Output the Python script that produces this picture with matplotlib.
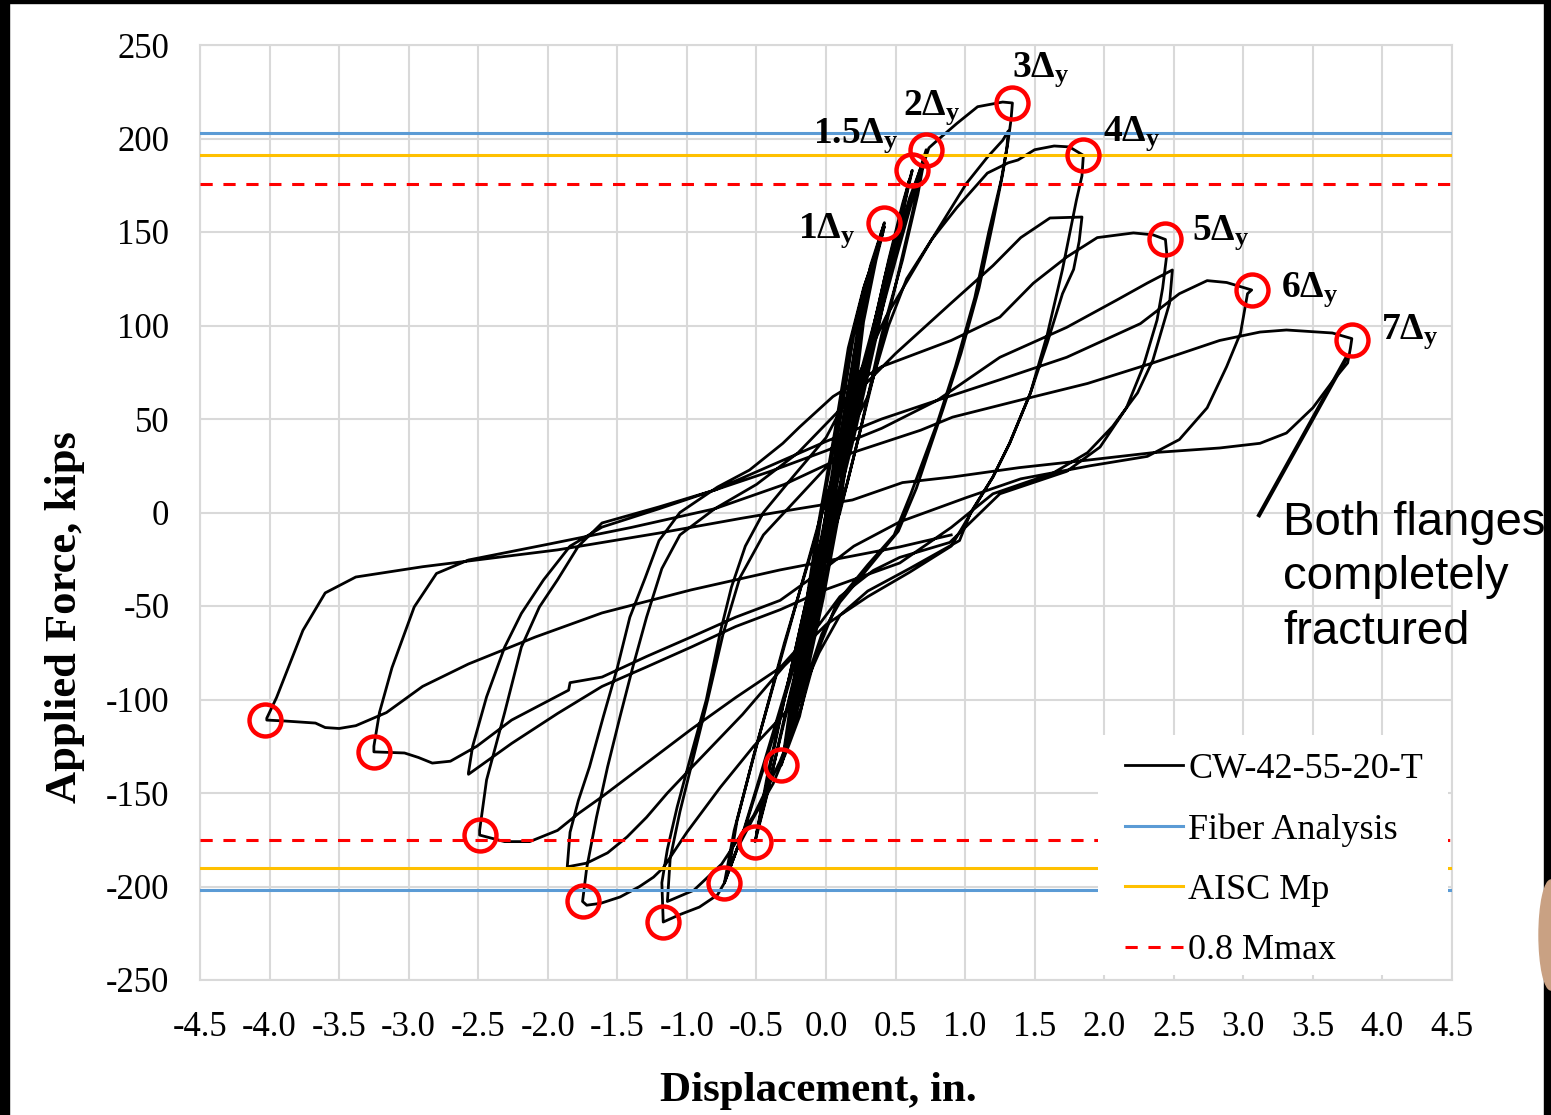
import numpy as np
import matplotlib
matplotlib.use("Agg")
import matplotlib.pyplot as plt
from matplotlib.patches import Rectangle, Ellipse

plt.rcParams['font.family'] = ['Liberation Serif', 'DejaVu Serif']
plt.rcParams['mathtext.fontset'] = 'custom'
plt.rcParams['mathtext.rm'] = 'Liberation Serif'
plt.rcParams['mathtext.bf'] = 'Liberation Serif:bold'
plt.rcParams['mathtext.it'] = 'Liberation Serif:italic'
plt.rcParams['axes.unicode_minus'] = False

# ---- test record (displacement in., force kips) ----
elastic = [(0.0, 0), (0.07, 22), (0.14, 46), (0.06, 16), (-0.02, -12), (-0.08, -42), (0.0, -10), (0.07, 18),
           (0.14, 45), (0.05, 14), (-0.03, -14), (-0.08, -41), (0.02, -2), (0.12, 40), (0.22, 86), (0.12, 44),
           (-0.02, -10), (-0.16, -74), (-0.04, -22), (0.1, 34), (0.22, 85), (0.1, 38), (-0.04, -16), (-0.16, -73),
           (-0.05, -28), (0.08, 26), (0.2, 80), (0.3, 122), (0.2, 84), (0.06, 20), (-0.08, -40), (-0.24, -106),
           (-0.1, -52), (0.06, 10), (0.18, 66), (0.3, 121), (0.18, 74), (0.04, 10), (-0.1, -48), (-0.24, -105)]
c1_a = [(-0.24, -105), (-0.2, -98), (-0.06, -50), (0.05, 0), (0.14, 50), (0.23, 100), (0.32, 132), (0.42, 155),
        (0.3, 125), (0.2, 95), (0.1, 48), (0.0, 0), (-0.1, -50), (-0.22, -100), (-0.32, -135)]
c1_b = [(-0.32, -135), (-0.18, -96), (-0.04, -48), (0.08, 0), (0.17, 50), (0.25, 100), (0.34, 132), (0.42, 153),
        (0.28, 122), (0.18, 92), (0.08, 46), (-0.03, 0), (-0.13, -50), (-0.23, -98), (-0.31, -132)]
c1_c = [(-0.31, -132), (-0.16, -94), (-0.02, -46), (0.1, 2), (0.19, 52), (0.27, 102), (0.36, 135), (0.41, 150),
        (0.27, 120), (0.16, 88), (0.06, 42), (-0.05, -4), (-0.15, -52), (-0.25, -100), (-0.31, -131)]
c15_1_up = [(-0.31, -131), (-0.2, -95), (-0.05, -40), (0.1, 15), (0.3, 85), (0.45, 135), (0.55, 165), (0.62, 183)]
c15_1_dn = [(0.62, 183), (0.55, 160), (0.4, 110), (0.2, 45), (0.05, -5), (-0.12, -55), (-0.3, -110), (-0.42, -150), (-0.51, -176)]
c15_2_up = [(-0.51, -176), (-0.44, -150), (-0.3, -100), (-0.12, -40), (0.05, 10), (0.25, 70), (0.42, 125), (0.54, 160), (0.6, 178)]
c15_2_dn = [(0.6, 178), (0.52, 150), (0.38, 100), (0.2, 40), (0.03, -10), (-0.15, -65), (-0.32, -118), (-0.44, -155), (-0.5, -172)]
c2_1_up = [(-0.5, -172), (-0.42, -140), (-0.3, -100), (-0.15, -50), (0.0, -5), (0.15, 35), (0.3, 80), (0.45, 125), (0.6, 165), (0.72, 194)]
c2_1_dn = [(0.72, 194), (0.66, 170), (0.55, 135), (0.4, 95), (0.25, 45), (0.1, 0), (-0.05, -35), (-0.25, -85), (-0.45, -135), (-0.6, -172), (-0.73, -198)]
c2_2_up = [(-0.73, -198), (-0.66, -170), (-0.5, -125), (-0.3, -70), (-0.12, -25), (0.05, 20), (0.25, 75), (0.45, 130), (0.6, 168), (0.7, 188)]
c2_2_dn = [(0.7, 188), (0.62, 160), (0.48, 115), (0.3, 60), (0.15, 15), (-0.02, -30), (-0.22, -80), (-0.42, -130), (-0.58, -168), (-0.7, -192)]
c3_1_up = [(-0.7, -192), (-0.64, -165), (-0.52, -130), (-0.35, -85), (-0.2, -45), (-0.05, -5), (0.1, 30), (0.3, 80), (0.5, 135),
           (0.65, 175), (0.74, 195), (0.8, 199), (0.94, 208), (1.09, 217), (1.27, 219.5), (1.34, 219)]
c3_1_dn = [(1.34, 219), (1.33, 210), (1.31, 199), (1.27, 181), (1.2, 155), (1.1, 120), (0.97, 85), (0.84, 55), (0.74, 33),
           (0.65, 13), (0.52, -10), (0.3, -30), (0.1, -48), (-0.03, -65), (-0.12, -85), (-0.19, -109), (-0.28, -127),
           (-0.38, -145), (-0.52, -163), (-0.64, -180), (-0.73, -198), (-0.78, -204.5), (-0.91, -211), (-1.05, -215), (-1.17, -219)]
c3_2_up = [(-1.17, -219), (-1.18, -198), (-1.14, -180), (-1.07, -157.5), (-0.96, -127), (-0.86, -100), (-0.76, -64),
           (-0.68, -40), (-0.58, -18), (-0.45, 0), (-0.25, 18), (0.0, 40), (0.2, 68), (0.43, 104.5), (0.76, 146),
           (1.01, 176), (1.16, 190), (1.27, 199), (1.31, 204)]
c3_2_dn = [(1.31, 204), (1.3, 195), (1.26, 178), (1.17, 150), (1.07, 115), (0.93, 78), (0.8, 48), (0.7, 28), (0.61, 10),
           (0.49, -12), (0.3, -28), (0.08, -48), (-0.08, -78), (-0.18, -105), (-0.33, -133), (-0.52, -162), (-0.75, -188),
           (-0.95, -202), (-1.14, -208)]
c4_1_up = [(-1.14, -208), (-1.12, -185), (-1.05, -160), (-0.95, -130), (-0.85, -100), (-0.74, -65), (-0.62, -35),
           (-0.45, -12), (-0.2, 8), (0.1, 32), (0.3, 62), (0.45, 100), (0.58, 125), (0.76, 146), (0.94, 163),
           (1.16, 181.5), (1.31, 187), (1.38, 188.5), (1.5, 194), (1.64, 196), (1.75, 195.5), (1.85, 191)]
c4_1_dn = [(1.85, 191), (1.84, 180), (1.8, 167), (1.7, 130), (1.59, 95), (1.47, 64), (1.32, 37), (1.2, 19), (1.04, 0),
           (0.96, -15), (0.6, -30), (0.3, -42), (0.1, -55), (-0.05, -75), (-0.15, -92), (-0.28, -106), (-0.52, -125),
           (-0.76, -147), (-1.0, -171), (-1.17, -190), (-1.24, -195), (-1.34, -200), (-1.48, -205.6), (-1.62, -209),
           (-1.72, -210), (-1.75, -208)]
c4_2_up = [(-1.75, -208), (-1.72, -190), (-1.65, -163), (-1.57, -136), (-1.48, -109), (-1.39, -83), (-1.29, -56),
           (-1.18, -30), (-1.05, -12), (-0.8, 2), (-0.5, 15), (-0.2, 32), (0.1, 55), (0.5, 85), (0.9, 112), (1.2, 132),
           (1.4, 147), (1.61, 157.5), (1.84, 158)]
c4_2_dn = [(1.84, 158), (1.82, 145), (1.78, 130), (1.7, 117), (1.59, 90.6), (1.47, 64), (1.32, 37), (1.2, 19), (1.06, 2),
           (0.9, -18), (0.6, -32), (0.3, -45), (0.0, -60), (-0.3, -82), (-0.6, -108), (-1.0, -139), (-1.14, -150),
           (-1.29, -163), (-1.43, -173.5), (-1.57, -182), (-1.72, -187.5), (-1.86, -189.5)]
c5_1_up = [(-1.86, -189.5), (-1.84, -171), (-1.78, -154), (-1.7, -136), (-1.6, -109), (-1.5, -83), (-1.41, -56),
           (-1.3, -35), (-1.2, -15), (-1.05, 0), (-0.78, 13.6), (-0.55, 22.7), (-0.31, 37), (-0.19, 45.7), (0.05, 62),
           (0.4, 78), (0.9, 92), (1.25, 104.5), (1.49, 122.6), (1.73, 136.6), (1.95, 147), (2.21, 149.5), (2.35, 148.5),
           (2.44, 146)]
c5_1_dn = [(2.44, 146), (2.45, 138), (2.42, 120), (2.38, 103), (2.28, 78), (2.16, 56), (1.97, 35), (1.73, 22), (1.25, 10),
           (0.89, -16), (0.53, -24), (0.34, -31), (0.1, -45), (-0.05, -60), (-0.33, -83), (-0.65, -99), (-0.97, -116),
           (-1.29, -134), (-1.45, -143), (-1.61, -152), (-1.78, -161), (-1.93, -170), (-2.13, -176), (-2.31, -176),
           (-2.49, -172.5)]
c5_2_up = [(-2.49, -172.5), (-2.49, -170), (-2.44, -143), (-2.31, -107), (-2.19, -72), (-2.06, -50.5), (-1.93, -36),
           (-1.78, -18), (-1.61, -5.6), (-1.2, 3), (-0.8, 12), (-0.4, 22), (0.0, 33), (0.4, 45), (0.8, 60), (1.25, 83),
           (1.73, 99), (2.09, 113.6), (2.31, 122.7), (2.49, 129.7)]
c5_2_dn = [(2.49, 129.7), (2.47, 112), (2.35, 81.5), (2.24, 64), (2.06, 46), (1.88, 32), (1.63, 21), (1.2, 10), (0.9, -8),
           (0.53, -27), (-0.01, -41.4), (-0.33, -52), (-0.65, -61), (-0.97, -72), (-1.29, -82.6), (-1.61, -93),
           (-1.93, -107.5), (-2.26, -123.5), (-2.42, -132), (-2.57, -140)]
c6_up = [(-2.57, -140), (-2.57, -139), (-2.54, -125), (-2.44, -98.6), (-2.31, -72), (-2.19, -54), (-2.03, -36),
         (-1.84, -18), (-1.61, -7.8), (-1.2, 2), (-0.8, 12), (-0.4, 25), (0.0, 38), (0.4, 50), (0.8, 60), (1.25, 71),
         (1.73, 83), (2.26, 101), (2.54, 117), (2.74, 124), (2.88, 123), (3.06, 119)]
c6_dn = [(3.06, 119), (3.03, 117), (2.98, 96), (2.88, 78), (2.74, 56), (2.54, 39), (2.31, 30), (1.9, 25), (1.4, 18),
         (1.01, 8), (0.53, -5), (0.2, -18), (-0.01, -30), (-0.33, -47), (-0.65, -56), (-0.97, -66.6), (-1.29, -77),
         (-1.61, -88), (-1.84, -91), (-1.85, -95), (-2.26, -111), (-2.51, -125), (-2.7, -133), (-2.83, -134),
         (-2.93, -131), (-3.03, -128.6), (-3.25, -128)]
c7_up = [(-3.25, -128), (-3.25, -125), (-3.21, -107), (-3.12, -83), (-2.96, -50.5), (-2.8, -32.6), (-2.57, -25.4),
         (-2.0, -17), (-1.4, -8), (-0.8, 2), (-0.3, 15), (0.19, 32), (0.68, 44), (0.91, 51), (1.39, 60), (1.88, 69),
         (2.35, 80), (2.83, 92), (3.12, 96.5), (3.31, 97.6), (3.64, 96), (3.78, 93)]
c7_dn = [(3.78, 93), (3.77, 88), (3.75, 80), (3.64, 70), (3.5, 56), (3.31, 42.5), (3.12, 37), (2.83, 34.5), (2.35, 32),
         (1.88, 28), (1.39, 24), (0.91, 19), (0.55, 16), (0.19, 6.7), (-0.2, 2), (-0.6, -3), (-1.2, -11), (-1.93, -20),
         (-2.9, -29), (-3.38, -34.5), (-3.6, -43), (-3.76, -63), (-3.95, -99), (-4.02, -110)]
c7_end = [(-4.02, -110), (-4.02, -111), (-3.89, -111.5), (-3.67, -112.6), (-3.6, -115), (-3.5, -115.5), (-3.38, -114),
          (-3.16, -107), (-2.9, -93), (-2.57, -81), (-2.09, -66.6), (-1.61, -53.7), (-0.97, -41.4), (-0.33, -30.7),
          (0.53, -18.4), (0.9, -12)]

# peaks marked with red circles
pos_peak_x = [0.42, 0.62, 0.72, 1.34, 1.85, 2.44, 3.06, 3.78]
pos_peak_f = [155, 183, 194, 219, 191, 146, 119, 92]
neg_peak_x = [-0.32, -0.51, -0.73, -1.17, -1.75, -2.49, -3.25, -4.03]
neg_peak_f = [-135, -176, -198, -219, -208, -172.5, -128, -111]

# cycle labels
cycle_labels = ['1', '1.5', '2', '3', '4', '5', '6', '7']
label_x = [-0.2, -0.09, 0.55, 1.34, 1.99, 2.63, 3.27, 3.99]
label_f = [147, 198, 212.6, 233, 199, 145.7, 115.2, 92.8]

# capacity reference lines
fiber_f = [203, -202]
aisc_f = [191, -190]
mmax_f = [175.5, -175]

x_ticks = [-4.5, -4.0, -3.5, -3.0, -2.5, -2.0, -1.5, -1.0, -0.5, 0.0, 0.5, 1.0, 1.5, 2.0, 2.5, 3.0, 3.5, 4.0, 4.5]
y_ticks = [-250, -200, -150, -100, -50, 0, 50, 100, 150, 200, 250]

branches = [elastic, c1_a, c1_b, c1_c, c15_1_up, c15_1_dn, c15_2_up, c15_2_dn, c2_1_up, c2_1_dn, c2_2_up, c2_2_dn,
            c3_1_up, c3_1_dn, c3_2_up, c3_2_dn, c4_1_up, c4_1_dn, c4_2_up, c4_2_dn,
            c5_1_up, c5_1_dn, c5_2_up, c5_2_dn, c6_up, c6_dn, c7_up, c7_dn, c7_end]
path = np.array([p for b in branches for p in b])

W, H = 1551, 1115
fig = plt.figure(figsize=(W / 100, H / 100), dpi=100)
ax = fig.add_axes([200 / W, 1 - 980 / H, 1252 / W, 935 / H])

grid_c = '#D9D9D9'
ax.plot(path[:, 0], path[:, 1], color='black', lw=2.0, label='CW-42-55-20-T', zorder=3,
        solid_joinstyle='round')

def ref_line(vals, **kw):
    xs = [x_ticks[0], x_ticks[-1], np.nan, x_ticks[0], x_ticks[-1]]
    ys = [vals[0], vals[0], np.nan, vals[1], vals[1]]
    ax.plot(xs, ys, zorder=4, **kw)

ref_line(fiber_f, color='#5B9BD5', lw=2.2, label='Fiber Analysis')
ref_line(aisc_f, color='#FFC000', lw=2.2, label='AISC Mp')
ref_line(mmax_f, color='#FF0000', lw=2.2, dashes=(4, 3.5), label='0.8 Mmax')

ax.plot(pos_peak_x + neg_peak_x, pos_peak_f + neg_peak_f, 'o', ms=23, mfc='none', mec='#FF0000',
        mew=3.2, zorder=6)

for lab, lx, lf in zip(cycle_labels, label_x, label_f):
    ax.text(lx, lf, r'$\mathbf{' + lab + r'\Delta_y}$', fontsize=27, ha='left', va='baseline', zorder=7)

# fracture note
ax.plot([3.745, 3.106], [83.2, -2.4], color='black', lw=3, zorder=5, solid_capstyle='butt')
ax.text(3.285, 6, 'Both flanges\ncompletely\nfractured', family='Liberation Sans', fontsize=34,
        ha='left', va='top', linespacing=1.3, clip_on=False, zorder=7)

ax.set_xlim(-4.5, 4.5)
ax.set_ylim(-250, 250)
ax.set_xticks(x_ticks)
ax.set_xticklabels(['%.1f' % v for v in x_ticks])
ax.set_yticks(y_ticks)
ax.tick_params(length=0, labelsize=25, pad=22)
ax.grid(True, color=grid_c, lw=1.5, zorder=0)
ax.set_axisbelow(True)
for s in ax.spines.values():
    s.set_color(grid_c)
    s.set_linewidth(1.5)

ax.set_xlabel('Displacement, in.', fontsize=31, fontweight='bold')
ax.xaxis.set_label_coords(0.494, -0.098)
ax.set_ylabel('Applied Force, kips', fontsize=32, fontweight='bold')
ax.yaxis.set_label_coords(-0.092, 0.388)

# white legend panel (wider side margins than a matplotlib frame gives)
ax.add_patch(Rectangle((1098 / W, 1 - 975 / H), 350 / W, 240 / H, transform=fig.transFigure,
                       facecolor='white', edgecolor='none', zorder=7.5))
leg = ax.legend(loc='lower right', bbox_to_anchor=(0.987, 0.0), fontsize=26, frameon=False,
                handlelength=1.6, handletextpad=0.15, labelspacing=0.75, borderpad=0.35, borderaxespad=0)
leg.set_zorder(8)

# screenshot frame
fig.add_artist(Rectangle((0, 0), 9 / W, 1, transform=fig.transFigure, color='black', zorder=20))
fig.add_artist(Rectangle((0, 1 - 3 / H), 1, 3 / H, transform=fig.transFigure, color='black', zorder=20))
fig.add_artist(Rectangle((1544 / W, 0), 7 / W, 1, transform=fig.transFigure, color='black', zorder=20))
fig.add_artist(Ellipse((1.0, 1 - 935 / H), 24 / W, 110 / H, transform=fig.transFigure, color='#C9A183', zorder=21))

fig.savefig('out.png', dpi=100)
